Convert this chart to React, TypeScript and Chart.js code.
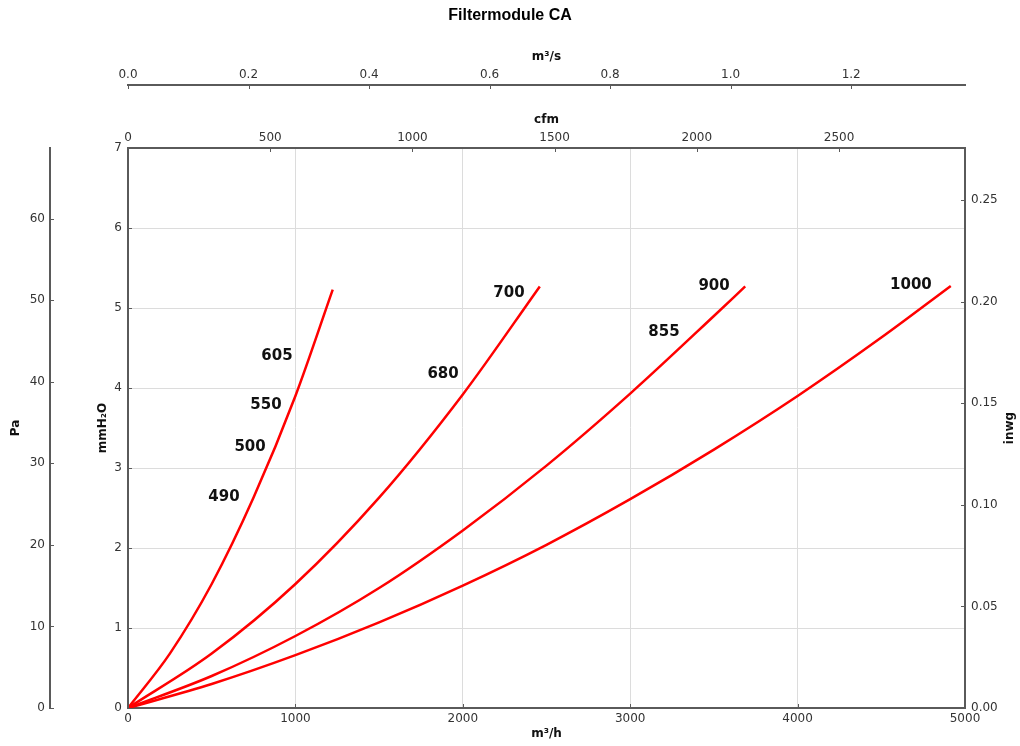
import React, { useEffect, useRef } from 'react';
import { Chart, registerables } from 'chart.js';

Chart.register(...registerables);

// ---- data (flow in m³/h, pressure drop in mmH₂O) ----
const flowA = [0, 250, 500, 750, 1000, 1223];
const dpA = [0, 0.68, 1.55, 2.63, 3.9, 5.23];

const flowB = [0, 500, 1000, 1500, 2000, 2460];
const dpB = [0, 0.68, 1.55, 2.63, 3.92, 5.27];

const flowC = [0, 500, 1000, 1500, 2000, 2500, 3000, 3500, 3687];
const dpC = [0, 0.4, 0.9, 1.5, 2.22, 3.03, 3.93, 4.9, 5.27];

const flowD = [0, 500, 1000, 1500, 2000, 2500, 3000, 3500, 4000, 4500, 4915];
const dpD = [0, 0.3, 0.66, 1.07, 1.53, 2.04, 2.61, 3.23, 3.9, 4.63, 5.275];

const curveLabels = ['605', '550', '500', '490', '680', '700', '855', '900', '1000'];
const curveLabelFlow = [890, 824, 729, 573, 1882, 2276, 3202, 3501, 4677];
const curveLabelDp = [4.4, 3.79, 3.26, 2.63, 4.175, 5.19, 4.7, 5.275, 5.29];

// tick values of the secondary axes
const cfmTicks = [0, 500, 1000, 1500, 2000, 2500];
const m3sTicks = [0, 0.2, 0.4, 0.6, 0.8, 1.0, 1.2];
const paTicks = [0, 10, 20, 30, 40, 50, 60];
const inwgTicks = [0, 0.05, 0.1, 0.15, 0.2, 0.25];

// axis ranges
const FLOW_MAX = 5000; // m³/h
const DP_MAX = 7; // mmH₂O
const CFM_PER_M3H = 1 / 1.699;
const M3S_PER_M3H = 1 / 3600;
const PA_PER_MMH2O = 9.80665;
const INWG_PER_MMH2O = 1 / 25.4;

const toXY = (xs: number[], ys: number[]) => xs.map((x, i) => ({ x, y: ys[i] }));
const fixedTicks = (vals: number[]) => (s: any) => {
  s.ticks = vals.map((value) => ({ value }));
};

const AXIS_COLOR = '#5a5a5a';
const TICK_COLOR = '#333';
const TITLE_COLOR = '#111';
const titleFont = { family: 'DejaVu Sans', size: 12, weight: 'bold' as const };
const tickFont = { family: 'DejaVu Sans', size: 12 };

const inwardTicks = {
  id: 'inwardTicks',
  afterDraw(chart: any) {
    const ctx = chart.ctx;
    const len = 4;
    ctx.save();
    ctx.strokeStyle = AXIS_COLOR;
    ctx.lineWidth = 1;
    Object.values(chart.scales).forEach((s: any) => {
      const pos = s.options.position;
      s.ticks.forEach((t: any) => {
        const p = Math.round(s.getPixelForValue(t.value)) + 0.5;
        ctx.beginPath();
        if (pos === 'left') {
          ctx.moveTo(s.right, p);
          ctx.lineTo(s.right + len, p);
        } else if (pos === 'right') {
          ctx.moveTo(s.left, p);
          ctx.lineTo(s.left - len, p);
        } else if (pos === 'top') {
          ctx.moveTo(p, s.bottom);
          ctx.lineTo(p, s.bottom + len);
        } else {
          ctx.moveTo(p, s.top);
          ctx.lineTo(p, s.top - len);
        }
        ctx.stroke();
      });
    });
    // right axis title (reads bottom-to-top)
    const r = chart.scales.yIn;
    if (r) {
      ctx.save();
      ctx.translate(r.right - 10, (r.top + r.bottom) / 2);
      ctx.rotate(-Math.PI / 2);
      ctx.fillStyle = TITLE_COLOR;
      ctx.font = 'bold 12px "DejaVu Sans"';
      ctx.textAlign = 'center';
      ctx.textBaseline = 'middle';
      ctx.fillText('inwg', 0, 0);
      ctx.restore();
    }
    ctx.restore();
  },
};

const curveLabelPlugin = {
  id: 'curveLabels',
  afterDatasetsDraw(chart: any) {
    const { ctx, scales } = chart;
    ctx.save();
    ctx.fillStyle = '#111';
    ctx.font = 'bold 15px "DejaVu Sans"';
    ctx.textAlign = 'center';
    ctx.textBaseline = 'middle';
    curveLabels.forEach((txt, i) => {
      ctx.fillText(txt, scales.x.getPixelForValue(curveLabelFlow[i]), scales.y.getPixelForValue(curveLabelDp[i]));
    });
    ctx.restore();
  },
};

export default function App() {
  const ref = useRef<HTMLCanvasElement>(null);

  useEffect(() => {
    if (!ref.current) return;
    const line = (xs: number[], ys: number[]) => ({
      data: toXY(xs, ys),
      borderColor: '#ff0000',
      borderWidth: 2.5,
      pointRadius: 0,
      fill: false,
      cubicInterpolationMode: 'monotone' as const,
      xAxisID: 'x',
      yAxisID: 'y',
    });
    const chart = new Chart(ref.current, {
      type: 'line',
      data: {
        datasets: [line(flowA, dpA), line(flowB, dpB), line(flowC, dpC), line(flowD, dpD)],
      },
      options: {
        responsive: false,
        animation: false,
        devicePixelRatio: 1,
        layout: { padding: 0 },
        plugins: {
          legend: { display: false },
          tooltip: { enabled: false },
          title: {
            display: true,
            text: 'Filtermodule CA',
            color: '#000',
            font: { family: 'Liberation Sans', size: 16, weight: 'bold' },
            padding: { top: 6.4, bottom: 7.4 },
          },
        },
        scales: {
          x: {
            type: 'linear',
            position: 'bottom',
            min: 0,
            max: FLOW_MAX,
            ticks: { stepSize: 1000, color: TICK_COLOR, font: tickFont, padding: 4, maxRotation: 0, callback: (v: any) => String(v) },
            grid: { color: '#dcdcdc', lineWidth: 1, drawTicks: false },
            border: { color: AXIS_COLOR, width: 2 },
            title: { display: true, text: 'm³/h', color: TITLE_COLOR, font: titleFont, padding: { top: 0, bottom: 4.8 } },
            afterFit: (s: any) => { s.height = 38; },
          },
          xCfm: {
            type: 'linear',
            position: 'top',
            weight: 1,
            min: 0,
            max: FLOW_MAX * CFM_PER_M3H,
            afterBuildTicks: fixedTicks(cfmTicks),
            ticks: { color: TICK_COLOR, font: tickFont, padding: 3, maxRotation: 0, autoSkip: false, callback: (v: any) => String(v) },
            grid: { display: false, drawTicks: false },
            border: { color: AXIS_COLOR, width: 2 },
            title: { display: true, text: 'cfm', color: TITLE_COLOR, font: titleFont, padding: { top: 27.8, bottom: 0 } },
            afterFit: (s: any) => { s.height = 63; },
          },
          xM3s: {
            type: 'linear',
            position: 'top',
            weight: 2,
            min: 0,
            max: FLOW_MAX * M3S_PER_M3H,
            afterBuildTicks: fixedTicks(m3sTicks),
            ticks: { color: TICK_COLOR, font: tickFont, padding: 3, maxRotation: 0, autoSkip: false, callback: (v: any) => Number(v).toFixed(1) },
            grid: { display: false, drawTicks: false },
            border: { color: AXIS_COLOR, width: 2 },
            title: { display: true, text: 'm³/s', color: TITLE_COLOR, font: titleFont, padding: { top: 16.8, bottom: 0 } },
            afterFit: (s: any) => { s.height = 52; },
          },
          y: {
            type: 'linear',
            position: 'left',
            weight: 0,
            min: 0,
            max: DP_MAX,
            ticks: { stepSize: 1, color: TICK_COLOR, font: tickFont, padding: 6 },
            grid: { color: '#dcdcdc', lineWidth: 1, drawTicks: false },
            border: { color: AXIS_COLOR, width: 2 },
            title: { display: true, text: 'mmH₂O', color: TITLE_COLOR, font: titleFont, padding: { top: 45.8, bottom: 0 } },
            afterFit: (s: any) => { s.width = 78; },
          },
          yPa: {
            type: 'linear',
            position: 'left',
            weight: 1,
            min: 0,
            max: DP_MAX * PA_PER_MMH2O,
            afterBuildTicks: fixedTicks(paTicks),
            ticks: { color: TICK_COLOR, font: tickFont, padding: 5, autoSkip: false },
            grid: { display: false, drawTicks: false },
            border: { color: AXIS_COLOR, width: 2 },
            title: { display: true, text: 'Pa', color: TITLE_COLOR, font: titleFont, padding: { top: 8.8, bottom: 0 } },
            afterFit: (s: any) => { s.width = 50; },
          },
          yIn: {
            type: 'linear',
            position: 'right',
            min: 0,
            max: DP_MAX * INWG_PER_MMH2O,
            afterBuildTicks: fixedTicks(inwgTicks),
            ticks: { color: TICK_COLOR, font: tickFont, padding: 6, autoSkip: false, callback: (v: any) => Number(v).toFixed(2) },
            grid: { display: false, drawTicks: false },
            border: { color: AXIS_COLOR, width: 2 },
            title: { display: false },
            afterFit: (s: any) => { s.width = 55; },
          },
        },
      } as any,
      plugins: [inwardTicks, curveLabelPlugin],
    });
    return () => chart.destroy();
  }, []);

  return (
    <div style={{ position: 'fixed', left: 0, top: 0, width: 1020, height: 746, background: '#fff' }}>
      <canvas ref={ref} width={1020} height={746} style={{ width: 1020, height: 746, display: 'block' }} />
    </div>
  );
}
